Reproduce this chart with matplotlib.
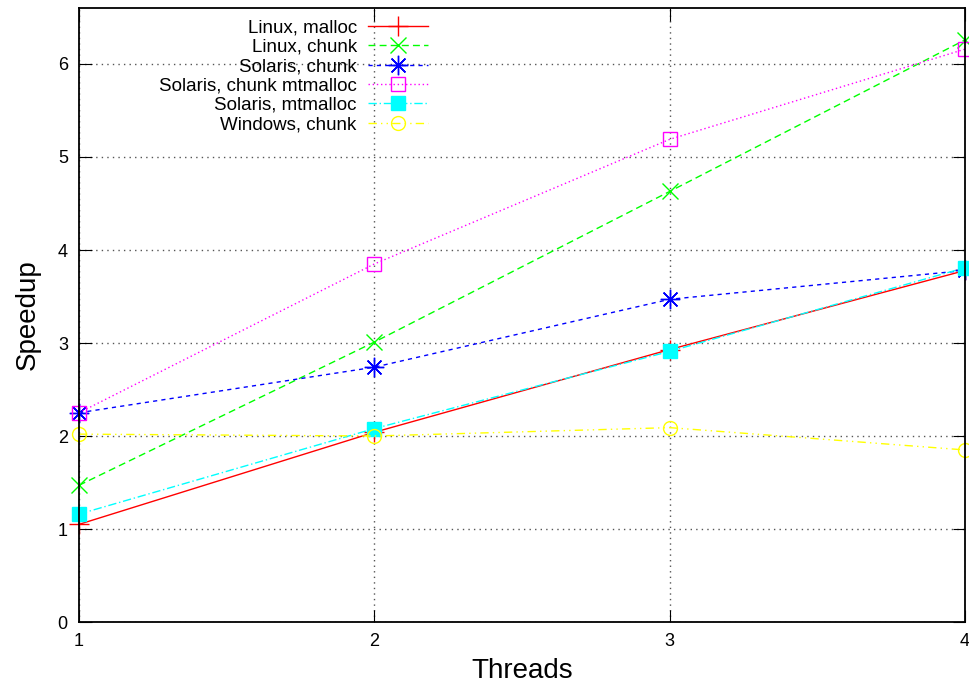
import matplotlib
matplotlib.use("Agg")
import matplotlib.pyplot as plt

plt.rcParams["font.family"] = ["Liberation Sans", "DejaVu Sans"]

# Speedup measurements per thread count
threads = [1, 2, 3, 4]
linux_malloc = [1.05, 2.04, 2.93, 3.78]
linux_chunk = [1.47, 3.01, 4.63, 6.26]
solaris_chunk = [2.25, 2.74, 3.47, 3.78]
solaris_chunk_mtmalloc = [2.25, 3.85, 5.19, 6.16]
solaris_mtmalloc = [1.16, 2.08, 2.91, 3.81]
windows_chunk = [2.02, 2.00, 2.09, 1.85]

series = [
    ("Linux, malloc", linux_malloc, dict(color="#ff0000", ls="-", marker="+", ms=14, mew=1)),
    ("Linux, chunk", linux_chunk, dict(color="#00ff00", ls=(0, (5, 3)), marker="x", ms=11, mew=1)),
    ("Solaris, chunk", solaris_chunk, dict(color="#0000ff", ls=(0, (3, 3)), marker=(8, 2, 0), ms=14, mew=1)),
    ("Solaris, chunk mtmalloc", solaris_chunk_mtmalloc,
     dict(color="#ff00ff", ls=(0, (1, 2)), marker="s", ms=10, mew=1, mfc="none")),
    ("Solaris, mtmalloc", solaris_mtmalloc, dict(color="#00ffff", ls=(0, (6, 2, 1, 2)), marker="s", ms=10, mew=1)),
    ("Windows, chunk", windows_chunk,
     dict(color="#ffff00", ls=(0, (6, 3, 1, 3, 1, 3)), marker="o", ms=10, mew=1, mfc="none")),
]

fig = plt.figure(figsize=(9.69, 6.83), dpi=100)
ax = fig.add_axes([0.0815, 0.0893, 0.9145, 0.8987])

for label, values, style in series:
    ax.plot(threads, values, label=label, lw=1, clip_on=False, **style)

ax.set_xlim(1, 4)
ax.set_ylim(0, 6.6)
ax.set_xticks([1, 2, 3, 4])
ax.set_yticks([0, 1, 2, 3, 4, 5, 6])
ax.grid(True, color="#555555", ls=(0, (1, 3)), lw=1)
ax.tick_params(direction="in", length=9, top=True, right=True, labelsize=13, pad=8)
for sp in ax.spines.values():
    sp.set_linewidth(1.3)

ax.set_xlabel("Threads", fontsize=20, labelpad=6)
ax.set_ylabel("Speedup", fontsize=20, labelpad=12)

ax.legend(loc="upper right", bbox_to_anchor=(0.394, 0.982), frameon=False, markerfirst=False,
          fontsize=13.5, handlelength=3.2, labelspacing=0.12, handletextpad=0.6,
          borderpad=0, borderaxespad=0)

fig.savefig("out.png", dpi=100)
